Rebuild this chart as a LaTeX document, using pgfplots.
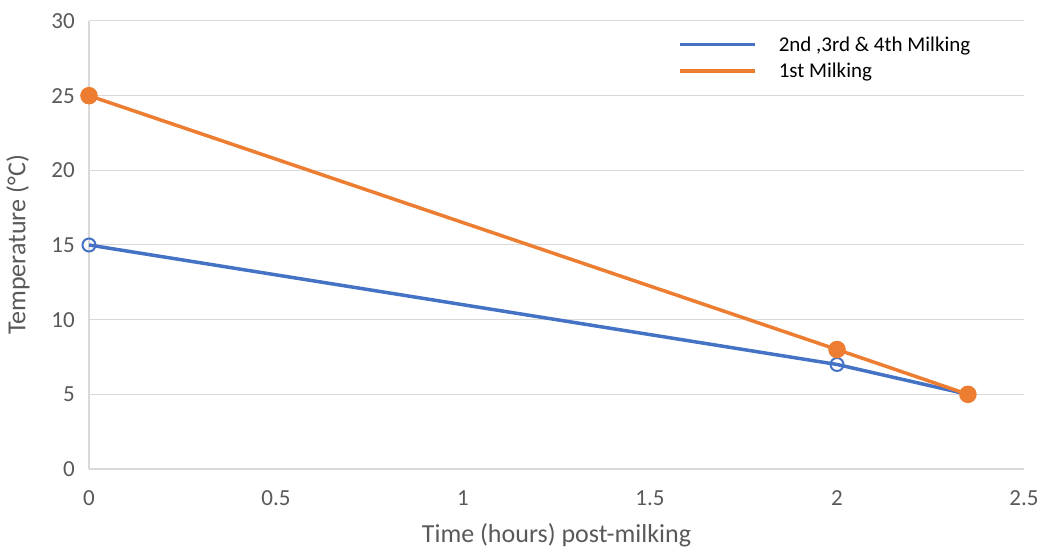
\documentclass[border=0pt]{standalone}
\usepackage{fontspec}
\setmainfont{Carlito}
\usepackage{pgfplots}
\pgfplotsset{compat=1.18}
\definecolor{xlblue}{HTML}{4472C4}
\definecolor{xlorange}{HTML}{ED7D31}
\definecolor{gridgray}{HTML}{D9D9D9}
\definecolor{txtgray}{HTML}{595959}
\begin{document}
\begin{tikzpicture}
\useasboundingbox (-89pt,-82pt) rectangle (954pt,469pt);
\begin{axis}[
  scale only axis,
  width=935pt, height=448pt,
  xmin=0, xmax=2.5, ymin=0, ymax=30,
  xtick={0,0.5,1,1.5,2,2.5},
  ytick={0,5,10,15,20,25,30},
  axis x line=bottom, axis y line=left,
  axis line style={-, draw=gridgray, line width=1.5pt},
  major tick length=0pt,
  ymajorgrids, grid style={draw=gridgray, line width=1pt},
  font=\fontsize{23}{27}\selectfont,
  /pgf/number format/assume math mode=true,
  tick label style={text=txtgray, font=\fontsize{23}{27}\selectfont},
  yticklabel style={inner sep=0pt, anchor=east, xshift=-14pt},
  xticklabel style={inner sep=0pt, anchor=north, yshift=-21pt},
  xlabel={Time (hours) post-milking},
  ylabel={Temperature (°C)},
  label style={text=txtgray, font=\fontsize{26}{30}\selectfont},
  xlabel style={at={(axis description cs:0.5,-0.148)}, anchor=center},
  ylabel style={at={(axis description cs:-0.076,0.5)}, anchor=center, rotate=0},
  legend style={draw=none, fill=none, at={(axis description cs:0.63,0.97)}, anchor=north west,
    font=\fontsize{21}{25}\selectfont, row sep=6pt, inner sep=0pt},
  legend cell align=left,
  legend image code/.code={\draw[#1, mark=none] (0pt,0pt) -- (75pt,0pt);},
  clip=false,
]
\addplot[xlblue, line width=3.5pt, mark=o, mark size=6.5pt, mark options={line width=2pt, fill=white}]
  coordinates {(0,15) (2,7) (2.35,5)};
\addlegendentry{\hspace{20pt}2nd ,3rd \& 4th Milking}
\addplot[xlorange, line width=3.5pt, mark=*, mark size=7pt]
  coordinates {(0,25) (2,8) (2.35,5)};
\addlegendentry{\hspace{20pt}1st Milking}
\end{axis}
\end{tikzpicture}
\end{document}
